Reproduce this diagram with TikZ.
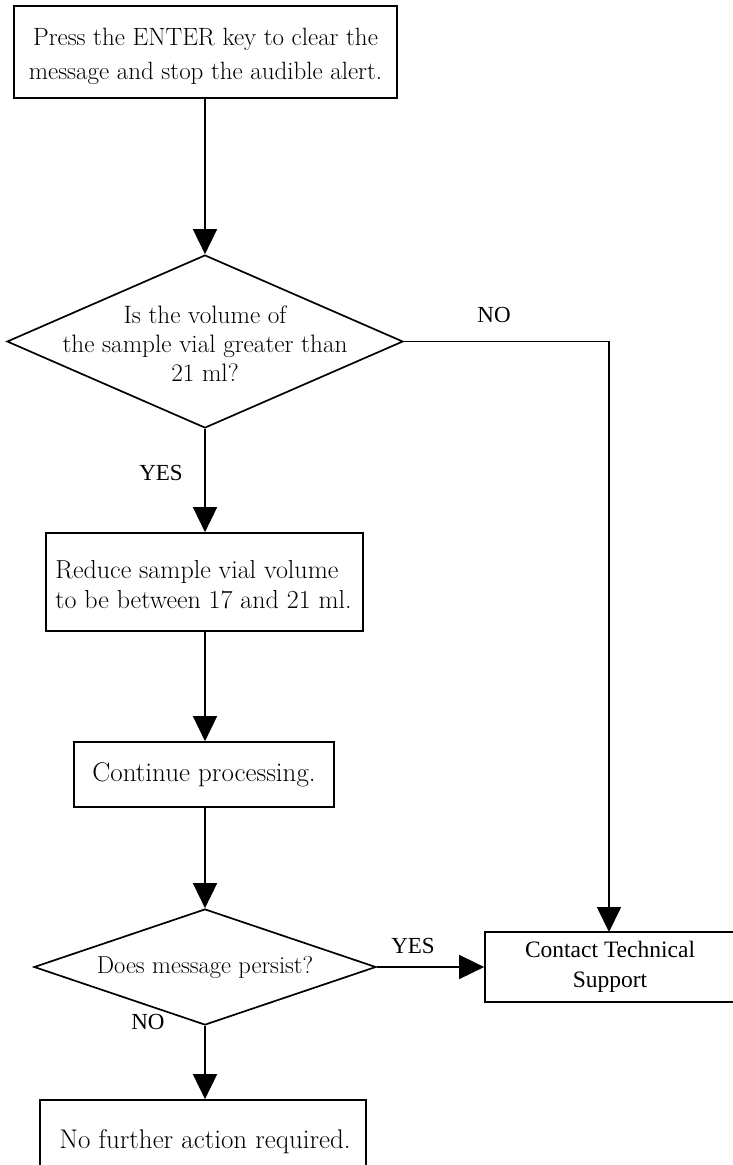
\documentclass[tikz,border=0pt]{standalone}
\usepackage{fontspec}
\newfontfamily\labfont{Liberation Serif}
\usetikzlibrary{shapes.geometric,arrows.meta}
\tikzset{
  box/.style={draw, line width=1.7pt, rectangle, inner sep=0pt, align=center,
    font=\fontsize{25}{34}\selectfont},
  dia/.style={draw, line width=1.7pt, diamond, inner sep=0pt},
  diatext/.style={align=center, inner sep=0pt, font=\fontsize{25.2}{29}\selectfont},
  lab/.style={inner sep=0pt, font=\labfont\fontsize{23}{26}\selectfont},
  flow/.style={line width=1.7pt, -{Triangle[length=25pt,width=24pt]}},
}
\begin{document}
\begin{tikzpicture}[x=1pt,y=-1pt]
\clip (0,0) rectangle (733,1165);
\fill[white] (0,0) rectangle (733,1165);

\node[box, minimum width=383pt, minimum height=92pt] (b1) at (205.5,52) {};
\node[inner sep=0pt, align=center, font=\fontsize{25}{34}\selectfont] (b1t) at (205.5,56)
  {Press the ENTER key to clear the\\message and stop the audible alert.};

\node[dia, minimum width=396pt, minimum height=173pt] (d1) at (205,341.5) {};
\node[diatext] (d1t) at (205,344)
  {Is the volume of\\the sample vial greater than\\21 ml?};

\node[box, minimum width=317pt, minimum height=98pt] (b2) at (204.5,582) {};
\node[inner sep=0pt, align=left, font=\fontsize{26}{30}\selectfont] (b2t) at (203.5,585)
  {Reduce sample vial volume\\to be between 17 and 21 ml.};

\node[box, minimum width=260pt, minimum height=65pt, font=\fontsize{27}{30}\selectfont] (b3) at (204,774.5)
  {Continue processing.};

\node[dia, minimum width=342pt, minimum height=116pt] (d2) at (205,967) {};
\node[diatext, font=\fontsize{24.5}{29}\selectfont] (d2t) at (205,967) {Does message persist?};

\node[box, minimum width=326pt, minimum height=90pt] (b4) at (203,1145)
  {};
\node[inner sep=0pt, font=\fontsize{27}{30}\selectfont] (b4t) at (205,1142)
  {No further action required.};

\node[box, minimum width=250pt, minimum height=70pt,
  font=\labfont\fontsize{23.5}{30}\selectfont] (cts) at (610,967)
  {Contact Technical\\Support};

\coordinate (ctop) at (609,932);

\draw[flow] (b1.south -| d1.north) -- (d1.north);
\draw[flow] (d1.east) -| (ctop);
\draw[flow] (d1.south) -- (d1.south |- b2.north);
\draw[flow] (b2.south -| d1.south) -- (d1.south |- b3.north);
\draw[flow] (b3.south -| d2.north) -- (d2.north);
\draw[flow] (d2.east) -- (cts.west);
\draw[flow] (d2.south) -- (d2.south |- b4.north);

\node[lab] (lno1) at (494,315) {NO};
\node[lab] (lyes1) at (161,473) {YES};
\node[lab] (lyes2) at (413,946) {YES};
\node[lab] (lno2) at (148,1022) {NO};
\end{tikzpicture}
\end{document}
